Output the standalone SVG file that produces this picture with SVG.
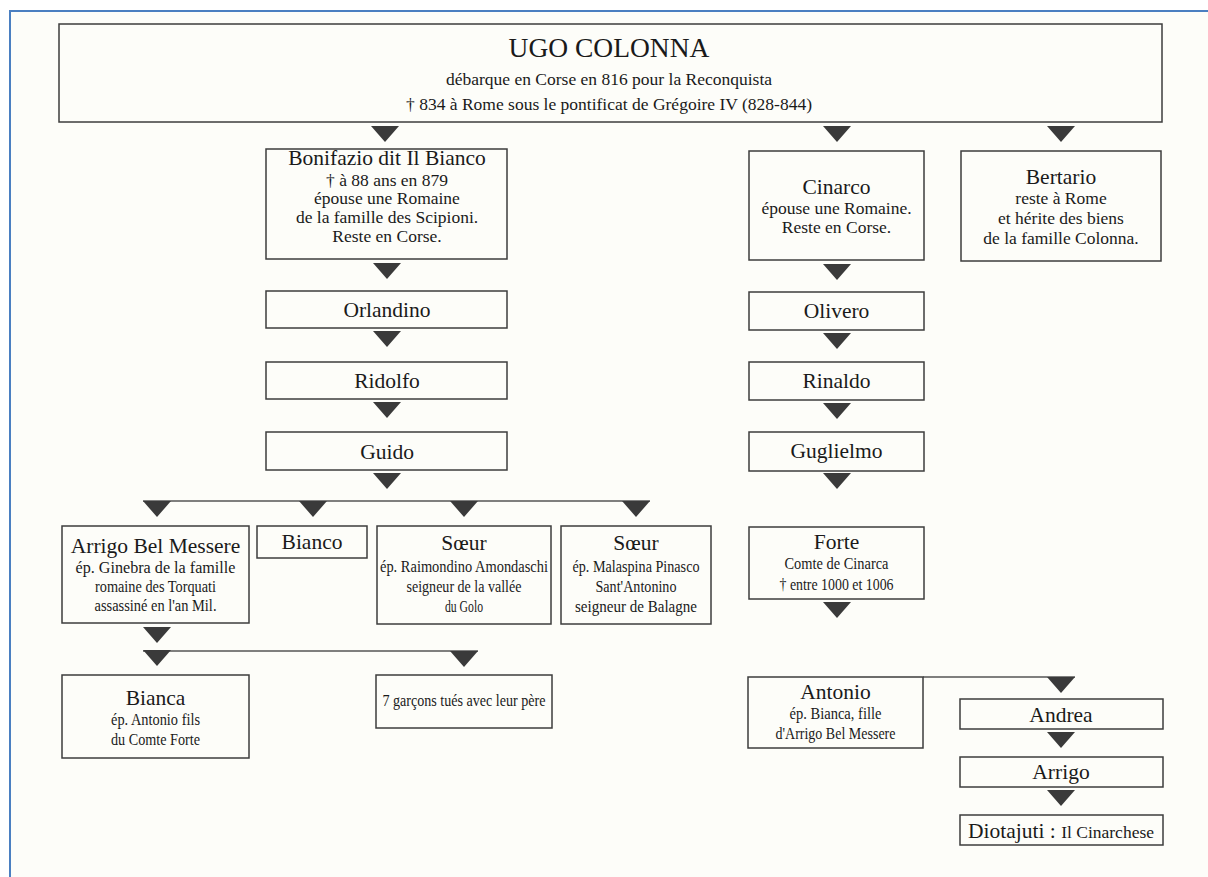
<svg xmlns="http://www.w3.org/2000/svg" width="1208" height="877" viewBox="0 0 1208 877">
<defs>
<style>
.bx{fill:none;stroke:#3d3d3d;stroke-width:1.5}
.ln{fill:none;stroke:#555;stroke-width:1.5}
.tri{fill:#3a3a3a}
text{font-family:"Liberation Serif","Times New Roman",serif;fill:#1a1a1a;text-anchor:middle}
.nm{font-size:21.5px}
.big{font-size:27.5px}
.sb{font-size:17.5px}
.sc{font-size:16.5px}
</style>
<path id="tr" class="tri" d="M-14,0 L14,0 L0,16 Z"/>
</defs>
<rect x="0" y="0" width="1208" height="877" fill="#ffffff"/>
<rect x="10" y="11" width="1198" height="866" fill="#fdfdf9"/>
<line x1="9" y1="11" x2="1208" y2="11" stroke="#4a7fc1" stroke-width="2"/>
<line x1="10" y1="10" x2="10" y2="877" stroke="#4a7fc1" stroke-width="2"/>

<g id="connectors">
<use href="#tr" x="385" y="126"/>
<use href="#tr" x="837" y="126"/>
<use href="#tr" x="1061" y="126"/>
<use href="#tr" x="387" y="263"/>
<use href="#tr" x="387" y="331"/>
<use href="#tr" x="387" y="402"/>
<use href="#tr" x="387" y="473"/>
<line class="ln" x1="143" y1="501" x2="650" y2="501"/>
<use href="#tr" x="157" y="501"/>
<use href="#tr" x="313" y="501"/>
<use href="#tr" x="464" y="501"/>
<use href="#tr" x="636" y="501"/>
<use href="#tr" x="157" y="627"/>
<line class="ln" x1="143" y1="651" x2="478" y2="651"/>
<use href="#tr" x="157" y="650"/>
<use href="#tr" x="464" y="651"/>
<use href="#tr" x="837" y="264"/>
<use href="#tr" x="837" y="333"/>
<use href="#tr" x="837" y="403"/>
<use href="#tr" x="837" y="473"/>
<use href="#tr" x="837" y="602"/>
<line class="ln" x1="923" y1="677" x2="1075" y2="677"/>
<use href="#tr" x="1061" y="677"/>
<use href="#tr" x="1061" y="732"/>
<use href="#tr" x="1061" y="790"/>
</g>

<g id="n-ugo">
<rect class="bx" x="59" y="24" width="1103" height="98"/>
<text class="big" x="609" y="57">UGO COLONNA</text>
<text class="sb" x="609" y="85">débarque en Corse en 816 pour la Reconquista</text>
<text class="sb" x="609" y="110">† 834 à Rome sous le pontificat de Grégoire IV (828-844)</text>
</g>

<g id="n-bonifazio">
<rect class="bx" x="266" y="149" width="241" height="110"/>
<text class="nm" x="387" y="165">Bonifazio dit Il Bianco</text>
<text class="sb" x="387" y="186">† à 88 ans en 879</text>
<text class="sb" x="387" y="204">épouse une Romaine</text>
<text class="sb" x="387" y="223">de la famille des Scipioni.</text>
<text class="sb" x="387" y="242">Reste en Corse.</text>
</g>
<g id="n-orlandino">
<rect class="bx" x="266" y="291" width="241" height="37"/>
<text class="nm" x="387" y="317">Orlandino</text>
</g>
<g id="n-ridolfo">
<rect class="bx" x="266" y="362" width="241" height="37"/>
<text class="nm" x="387" y="388">Ridolfo</text>
</g>
<g id="n-guido">
<rect class="bx" x="266" y="432" width="241" height="38"/>
<text class="nm" x="387" y="459">Guido</text>
</g>

<g id="n-cinarco">
<rect class="bx" x="749" y="151" width="175" height="109"/>
<text class="nm" x="836.5" y="194">Cinarco</text>
<text class="sb" x="836.5" y="214">épouse une Romaine.</text>
<text class="sb" x="836.5" y="233">Reste en Corse.</text>
</g>
<g id="n-olivero">
<rect class="bx" x="749" y="292" width="175" height="38"/>
<text class="nm" x="836.5" y="318">Olivero</text>
</g>
<g id="n-rinaldo">
<rect class="bx" x="749" y="362" width="175" height="38"/>
<text class="nm" x="836.5" y="388">Rinaldo</text>
</g>
<g id="n-guglielmo">
<rect class="bx" x="749" y="432" width="175" height="39"/>
<text class="nm" x="836.5" y="458">Guglielmo</text>
</g>
<g id="n-forte">
<rect class="bx" x="749" y="527" width="175" height="72"/>
<text class="nm" x="836.5" y="549">Forte</text>
<text class="sc" x="836.5" y="569" textLength="104" lengthAdjust="spacingAndGlyphs">Comte de Cinarca</text>
<text class="sc" x="836.5" y="590" textLength="114" lengthAdjust="spacingAndGlyphs">† entre 1000 et 1006</text>
</g>

<g id="n-bertario">
<rect class="bx" x="961" y="151" width="200" height="110"/>
<text class="nm" x="1061" y="184">Bertario</text>
<text class="sb" x="1061" y="204">reste à Rome</text>
<text class="sb" x="1061" y="224">et hérite des biens</text>
<text class="sb" x="1061" y="244">de la famille Colonna.</text>
</g>

<g id="n-arrigo">
<rect class="bx" x="62" y="526" width="187" height="97"/>
<text class="nm" x="155.5" y="553">Arrigo Bel Messere</text>
<text class="sc" x="155.5" y="573" textLength="160" lengthAdjust="spacingAndGlyphs">ép. Ginebra de la famille</text>
<text class="sc" x="155.5" y="592" textLength="121" lengthAdjust="spacingAndGlyphs">romaine des Torquati</text>
<text class="sc" x="155.5" y="611" textLength="122" lengthAdjust="spacingAndGlyphs">assassiné en l'an Mil.</text>
</g>
<g id="n-bianco">
<rect class="bx" x="257" y="526" width="110" height="32"/>
<text class="nm" x="312" y="549">Bianco</text>
</g>
<g id="n-soeur1">
<rect class="bx" x="377" y="526" width="174" height="98"/>
<text class="nm" x="464" y="550">Sœur</text>
<text class="sc" x="464" y="572" textLength="168" lengthAdjust="spacingAndGlyphs">ép. Raimondino Amondaschi</text>
<text class="sc" x="464" y="592" textLength="115" lengthAdjust="spacingAndGlyphs">seigneur de la vallée</text>
<text class="sc" x="464" y="612" textLength="38" lengthAdjust="spacingAndGlyphs">du Golo</text>
</g>
<g id="n-soeur2">
<rect class="bx" x="561" y="526" width="150" height="98"/>
<text class="nm" x="636" y="550">Sœur</text>
<text class="sc" x="636" y="572" textLength="127" lengthAdjust="spacingAndGlyphs">ép. Malaspina Pinasco</text>
<text class="sc" x="636" y="592" textLength="81" lengthAdjust="spacingAndGlyphs">Sant'Antonino</text>
<text class="sc" x="636" y="612" textLength="122" lengthAdjust="spacingAndGlyphs">seigneur de Balagne</text>
</g>

<g id="n-bianca">
<rect class="bx" x="62" y="675" width="187" height="83"/>
<text class="nm" x="155.5" y="705">Bianca</text>
<text class="sc" x="155.5" y="725" textLength="89" lengthAdjust="spacingAndGlyphs">ép. Antonio fils</text>
<text class="sc" x="155.5" y="745" textLength="89" lengthAdjust="spacingAndGlyphs">du Comte Forte</text>
</g>
<g id="n-garcons">
<rect class="bx" x="376" y="675" width="176" height="53"/>
<text class="sc" x="464" y="706" textLength="163" lengthAdjust="spacingAndGlyphs">7 garçons tués avec leur père</text>
</g>

<g id="n-antonio">
<rect class="bx" x="748" y="677" width="175" height="71"/>
<text class="nm" x="835.5" y="699">Antonio</text>
<text class="sc" x="835.5" y="719" textLength="92" lengthAdjust="spacingAndGlyphs">ép. Bianca, fille</text>
<text class="sc" x="835.5" y="739" textLength="120" lengthAdjust="spacingAndGlyphs">d'Arrigo Bel Messere</text>
</g>
<g id="n-andrea">
<rect class="bx" x="960" y="699" width="203" height="30"/>
<text class="nm" x="1061" y="722">Andrea</text>
</g>
<g id="n-arrigo2">
<rect class="bx" x="960" y="757" width="203" height="30"/>
<text class="nm" x="1061" y="779">Arrigo</text>
</g>
<g id="n-diotajuti">
<rect class="bx" x="960" y="815" width="203" height="30"/>
<text x="1061" y="838"><tspan class="nm">Diotajuti : </tspan><tspan font-size="17.5px">Il Cinarchese</tspan></text>
</g>
</svg>
